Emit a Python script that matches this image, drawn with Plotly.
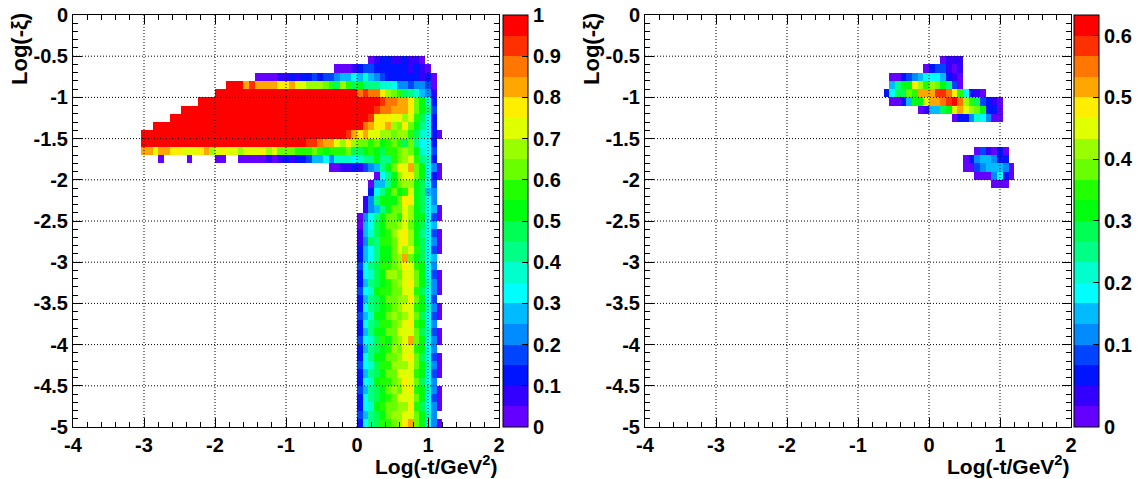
import plotly.graph_objects as go

W, H = 1141, 479

# ---- binning ----
NX, X0, DX = 75, -4.0, 0.08
NY, DY = 50, 0.1

# colour-band codes 0..19 (palette bands), '.' = empty bin
LEVEL_CODES = "0123456789abcdefghij"

# left panel: row j (y from -0.1*j down to -0.1*(j+1)) -> (first x-bin, band codes)
LEFT_ROWS = {
    5: (52, "0122112110"),
    6: (46, "00012332222221210"),
    7: (32, "00001121223233455657543222222120"),
    8: (27, "jjjgiggggffgeedddcb9db9a8887764434430"),
    9: (25, "jjjjjjjjjjjjjjjjjjjjjjjjjhihhfdcb987541"),
    10: (22, "jjjjjjjjjjjjjjjjjjjjjjjjjjjjjjjjihhggfca72"),
    11: (19, "jjjjjjjjjjjjjjjjjjjjjjjjjjjjjjjjjjihhgggfca83"),
    12: (17, "jjjjjjjjjjjjjjjjjjjjjjjjjjjjjjjjjjjifffefdeb962"),
    13: (14, "jjjjjjjjjjjjjjjjjjjjjjjjjjjjjjjjjjjjjhgffgdcfca862"),
    14: (12, "jjjjjjjjjjjjjjjjjjjjjjjjjjjjjjjjjjjjigfgeeddcddb97620"),
    15: (12, "jjjjjjjjjjjjjjjjjjjjjjjjjjjjjiihggedfdccbcabcb9c8662"),
    16: (12, "ggeggffeeefgdefeedeeefdecccbbbcbabbbc99aba9bbcdca763"),
    17: (15, "0....0....00..000001012122355647776788a88bcdeb872"),
    18: (45, "0011213458acfegca640"),
    19: (53, "068adefca620"),
    20: (52, "0558acdda963"),
    21: (52, "268acabea954"),
    22: (51, "148aaacffa964"),
    23: (51, "1458acceda9650"),
    24: (50, "0468accbedaa630"),
    25: (50, "0569accdeca965."),
    26: (50, "1579abdefda8630"),
    27: (50, "1498bbcefda9640"),
    28: (50, "2568aacedeb9630"),
    29: (50, "2568aacdgca965."),
    30: (50, "3689bbcdfeba64."),
    31: (50, "2679addceeca630"),
    32: (50, "2589abcdefca740"),
    33: (50, "367abbcceeb9640"),
    34: (50, "2589accddfca63."),
    35: (50, "2689abcdeeba740"),
    36: (50, "357aacdcdec9630"),
    37: (50, "2689bbcdefba64."),
    38: (50, "258aacceeec9730"),
    39: (50, "3679bacdegca640"),
    40: (50, "2589abdceeba64."),
    41: (50, "268aaccdefc9630"),
    42: (50, "3679bbdddeca740"),
    43: (50, "2589acceeeba630"),
    44: (50, "267abbcdfec964."),
    45: (50, "3589acdcefba740"),
    46: (50, "2689abceeeca630"),
    47: (50, "267abccddfb9640"),
    48: (50, "3589acddeeca74."),
    49: (50, "2689bbcdfgca640"),
}

# right panel
RIGHT_ROWS = {
    5: (52, "0111"),
    6: (49, "0233101"),
    7: (43, "0023456665210"),
    8: (43, "58aafdbdca830"),
    9: (42, "2699cbgggiihfb6210"),
    10: (43, "0025aaegghijhdb93210"),
    11: (48, "01559aegedca220"),
    12: (54, "022476400"),
    16: (58, "031020"),
    17: (56, "02455422"),
    18: (56, "003455540"),
    19: (58, "0004620"),
    20: (61, "000"),
}

LEFT_ZRANGE = (0.0, 1.0)
RIGHT_ZRANGE = (-1.0 / 30.0, 0.6333)

X_TICKS = [-4, -3, -2, -1, 0, 1, 2]
Y_TICKS = [0, -0.5, -1, -1.5, -2, -2.5, -3, -3.5, -4, -4.5, -5]
LEFT_Z_TICKS = [0, 0.1, 0.2, 0.3, 0.4, 0.5, 0.6, 0.7, 0.8, 0.9, 1.0]
LEFT_Z_TEXT = ["0", "0.1", "0.2", "0.3", "0.4", "0.5", "0.6", "0.7", "0.8", "0.9", "1"]
RIGHT_Z_TICKS = [-1.0 / 30.0, 0.1, 0.2, 0.3, 0.4, 0.5, 0.6]
RIGHT_Z_TEXT = ["0", "0.1", "0.2", "0.3", "0.4", "0.5", "0.6"]

PALETTE = ["#6300ff", "#3300ff", "#0014ff", "#0044ff", "#008bff", "#00bbff",
           "#00fffc", "#00ffcc", "#00ff85", "#00ff55", "#00ff0e", "#22ff00",
           "#69ff00", "#99ff00", "#e0ff00", "#ffee00", "#ffa700", "#ff7700",
           "#ff3000", "#ff0000"]


def fmt(v):
    return "%g" % v


def build(rows, zr):
    zmin, zmax = zr
    step = (zmax - zmin) / 20.0
    z = [[None] * NX for _ in range(NY)]
    for j, (c0, codes) in rows.items():
        for k, ch in enumerate(codes):
            if ch != ".":
                z[j][c0 + k] = zmin + (LEVEL_CODES.index(ch) + 0.5) * step
    return z


xc = [X0 + DX * (i + 0.5) for i in range(NX)]
yc = [-DY * (j + 0.5) for j in range(NY)]

cscale = []
for i, c in enumerate(PALETTE):
    cscale.append([i / 20.0, c])
    cscale.append([(i + 1) / 20.0, c])

FONT = "Liberation Sans, Arial, sans-serif"
tickfont = dict(family=FONT, size=20, color="black", weight="bold")
titlefont = dict(family=FONT, size=21, color="black", weight="bold")
ytitlefont = dict(family=FONT, size=22, color="black", weight="bold")

# pixel layout
PLOT_TOP, PLOT_BOT = 15, 427
panels = [
    dict(x0=73, x1=499, cb=503, rows=LEFT_ROWS, zr=LEFT_ZRANGE,
         zt=LEFT_Z_TICKS, ztt=LEFT_Z_TEXT, xa="x", ya="y"),
    dict(x0=645, x1=1071, cb=1074, rows=RIGHT_ROWS, zr=RIGHT_ZRANGE,
         zt=RIGHT_Z_TICKS, ztt=RIGHT_Z_TEXT, xa="x2", ya="y2"),
]

fig = go.Figure()
ydom = [(H - PLOT_BOT) / H, (H - PLOT_TOP) / H]
layout = dict(width=W, height=H,
              margin=dict(l=0, r=0, t=0, b=0, pad=0, autoexpand=False),
              paper_bgcolor="white", plot_bgcolor="white", showlegend=False)
shapes = []
annotations = []

for idx, p in enumerate(panels):
    z = build(p["rows"], p["zr"])
    fig.add_trace(go.Heatmap(
        x=xc, y=yc, z=z, zmin=p["zr"][0], zmax=p["zr"][1],
        colorscale=cscale, xaxis=p["xa"], yaxis=p["ya"], hoverinfo="skip",
        colorbar=dict(
            x=p["cb"] / W, xanchor="left", xpad=0,
            y=ydom[0], yanchor="bottom", ypad=0,
            len=(PLOT_BOT - PLOT_TOP) / H, lenmode="fraction",
            thickness=25, thicknessmode="pixels",
            outlinewidth=1, outlinecolor="black",
            ticks="inside", ticklen=6, tickcolor="black",
            tickmode="array", tickvals=p["zt"], ticktext=p["ztt"],
            tickfont=tickfont),
    ))
    sfx = "" if idx == 0 else "2"
    layout["xaxis" + sfx] = dict(
        domain=[p["x0"] / W, p["x1"] / W], range=[-4, 2],
        anchor="y" + sfx, showgrid=False, zeroline=False, automargin=False,
        showline=True, linecolor="black", linewidth=1, mirror="ticks",
        ticks="inside", ticklen=9, tickcolor="black",
        tickmode="array", tickvals=X_TICKS, ticktext=[fmt(v) for v in X_TICKS],
        tickfont=tickfont,
        minor=dict(tickmode="linear", tick0=0, dtick=0.2, ticks="inside",
                   ticklen=5, tickcolor="black", showgrid=False))
    layout["yaxis" + sfx] = dict(
        domain=ydom, range=[-5, 0], anchor="x" + sfx, automargin=False,
        showgrid=False, zeroline=False,
        showline=True, linecolor="black", linewidth=1, mirror="ticks",
        ticks="inside", ticklen=9, tickcolor="black",
        tickmode="array", tickvals=Y_TICKS, ticktext=[fmt(v) for v in Y_TICKS],
        tickfont=tickfont,
        minor=dict(tickmode="linear", tick0=0, dtick=0.1, ticks="inside",
                   ticklen=5, tickcolor="black", showgrid=False))
    xr, yr = p["xa"], p["ya"]
    for gx in X_TICKS[1:-1]:
        shapes.append(dict(type="line", xref=xr, yref=yr + " domain",
                           x0=gx, x1=gx, y0=0, y1=1, layer="above",
                           line=dict(color="black", width=1, dash="1px,2px")))
    for gy in Y_TICKS[1:-1]:
        shapes.append(dict(type="line", xref=xr + " domain", yref=yr,
                           x0=0, x1=1, y0=gy, y1=gy, layer="above",
                           line=dict(color="black", width=1, dash="1px,2px")))
    annotations.append(dict(
        text="Log(-t/GeV<sup>2</sup>)", xref="paper", yref="paper",
        x=(p["x1"] + 1) / W, y=(H - 465) / H, xanchor="right", yanchor="middle",
        showarrow=False, font=titlefont))
    annotations.append(dict(
        text="Log(-ξ)", xref="paper", yref="paper",
        x=(p["x0"] - 54) / W, y=(H - 11) / H, xanchor="center", yanchor="top",
        textangle=-90, showarrow=False, font=ytitlefont))

layout["shapes"] = shapes
layout["annotations"] = annotations
fig.update_layout(**layout)
fig.write_html("out.html")
